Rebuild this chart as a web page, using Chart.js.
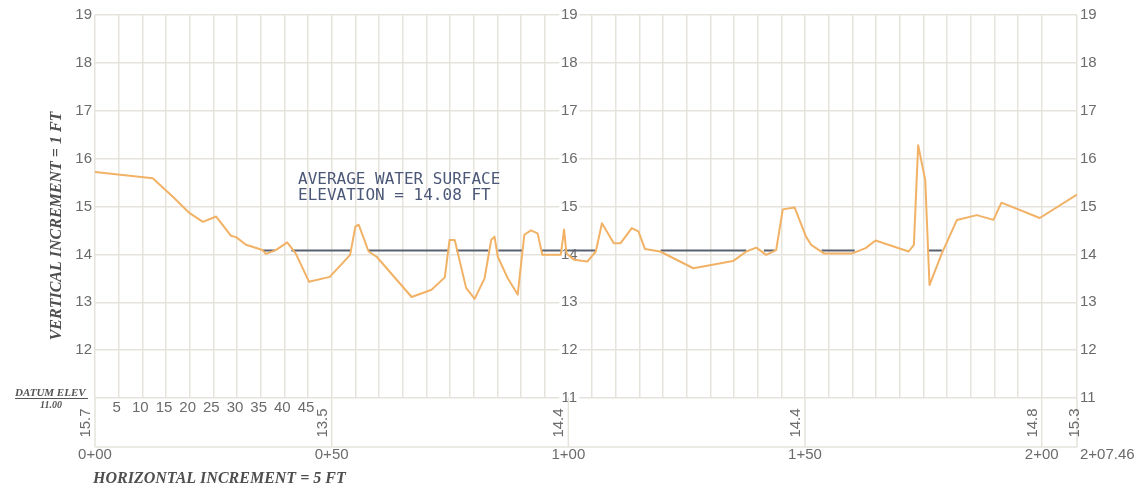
<!DOCTYPE html>
<html>
<head>
<meta charset="utf-8">
<title>Channel cross section</title>
<script src="https://cdn.jsdelivr.net/npm/chart.js@4.4.1/dist/chart.umd.min.js"></script>
<style>
  html, body { margin: 0; padding: 0; background: #fff; }
  canvas { display: block; }
</style>
</head>
<body>
<canvas id="xsChart" width="1138" height="496"></canvas>
<script>
// ground profile (station in ft, elevation in ft)
const groundX = [0, 12.2, 16.5, 20, 22.8, 25.6, 28.7, 29.8, 31.9, 35.4, 36.1, 38.2, 40.6, 42.4, 45.2, 49.6,
  53.9, 55.0, 55.7, 57.8, 59.5, 66.9, 71.1, 73.9, 74.9, 76.0, 78.4, 80.2, 82.3, 83.7, 84.4, 85.1,
  87.2, 89.3, 90.7, 92.1, 93.5, 94.5, 98.4, 99.1, 99.6, 101.2, 104.0, 105.8, 107.1, 109.6, 111.0,
  113.4, 114.8, 116.2, 119.4, 126.4, 134.8, 137.6, 139.7, 141.8, 143.9, 145.3, 147.8, 150.2, 151.3,
  154.0, 160.0, 162.8, 164.9, 171.9, 173.0, 173.9, 175.4, 176.3, 178.9, 182.1, 186.3, 189.8, 191.5,
  199.6, 207.46];
const groundY = [15.72, 15.59, 15.2, 14.86, 14.68, 14.79, 14.39, 14.36, 14.2, 14.09, 14.01, 14.09, 14.25, 14.02, 13.43, 13.53,
  13.99, 14.58, 14.62, 14.06, 13.95, 13.11, 13.26, 13.52, 14.3, 14.3, 13.3, 13.07, 13.5, 14.3, 14.37, 13.95,
  13.5, 13.16, 14.41, 14.5, 14.44, 13.99, 13.99, 14.52, 14.02, 13.89, 13.85, 14.06, 14.65, 14.23, 14.23,
  14.55, 14.48, 14.11, 14.06, 13.71, 13.86, 14.06, 14.14, 13.99, 14.09, 14.94, 14.98, 14.37, 14.2,
  14.02, 14.02, 14.13, 14.29, 14.06, 14.2, 16.28, 15.55, 13.36, 14.02, 14.72, 14.82, 14.72, 15.08,
  14.76, 15.25];

// wetted stretches of the average water surface [from, to] in ft
const waterSegments = [[35.4, 38.0], [41.5, 54.0], [57.8, 74.8], [76.3, 83.1], [85.2, 90.3], [94.3, 98.6],
  [99.7, 105.7], [119.5, 137.6], [141.3, 143.6], [153.5, 160.5], [175.9, 178.9]];
const waterElev = 14.08;

const elevTicks = [11, 12, 13, 14, 15, 16, 17, 18, 19];
const stations = [0, 50, 100, 150, 200, 207.46];
const stationLabels = ['0+00', '0+50', '1+00', '1+50', '2+00', '2+07.46'];
const stationElev = ['15.7', '13.5', '14.4', '14.4', '14.8', '15.3'];
const distLabels = [5, 10, 15, 20, 25, 30, 35, 40, 45];

const gridX = [];
for (let s = 0; s <= 200; s += 5) gridX.push(s);
gridX.push(207.46);

const gridColor = '#e5e3dc';
const labelColor = '#6b6b6b';
const tickFont = '15px "Liberation Sans", Arial, sans-serif';

const groundPts = groundX.map((x, i) => ({ x: x, y: groundY[i] }));
const waterPts = [];
waterSegments.forEach(([a, b]) => {
  waterPts.push({ x: a, y: waterElev }, { x: b, y: waterElev }, { x: b, y: null });
});

const sheetPlugin = {
  id: 'sheet',
  beforeDatasetsDraw(chart) {
    // elevation labels along the 1+00 line
    const { ctx, scales: { x, y } } = chart;
    const cx = x.getPixelForValue(100);
    ctx.save();
    ctx.font = tickFont;
    ctx.textAlign = 'center';
    ctx.textBaseline = 'middle';
    elevTicks.forEach((v) => {
      const py = y.getPixelForValue(v);
      ctx.fillStyle = '#fff';
      ctx.fillRect(cx - 9, py - 7, 20, 14);
      ctx.fillStyle = labelColor;
      ctx.fillText(String(v), cx + 1, py);
    });
    ctx.restore();
  },
  afterDraw(chart) {
    const { ctx, chartArea, scales: { x } } = chart;
    const top = chartArea.bottom;
    const bandBottom = top + 49;
    ctx.save();

    // station band
    ctx.strokeStyle = gridColor;
    ctx.lineWidth = 1.5;
    ctx.beginPath();
    stations.forEach((s) => {
      const px = x.getPixelForValue(s);
      ctx.moveTo(px, top);
      ctx.lineTo(px, bandBottom);
    });
    ctx.moveTo(chartArea.left, bandBottom);
    ctx.lineTo(chartArea.right, bandBottom);
    ctx.stroke();

    ctx.font = tickFont;
    ctx.fillStyle = labelColor;
    ctx.textBaseline = 'middle';
    stations.forEach((s, i) => {
      const px = x.getPixelForValue(s);
      const last = i === stations.length - 1;
      ctx.textAlign = last ? 'left' : 'center';
      ctx.fillText(stationLabels[i], last ? px + 3 : px, bandBottom + 8);

      ctx.save();
      ctx.translate(last ? px - 2 : px - 9, top + 25);
      ctx.rotate(-Math.PI / 2);
      ctx.textAlign = 'center';
      ctx.fillText(stationElev[i], 0, 0);
      ctx.restore();
    });

    ctx.textAlign = 'center';
    distLabels.forEach((d) => {
      ctx.fillText(String(d), x.getPixelForValue(d) - 2, top + 10);
    });

    // datum note
    ctx.fillStyle = '#555';
    ctx.font = 'italic bold 11px "Liberation Serif", serif';
    ctx.textAlign = 'left';
    ctx.textBaseline = 'alphabetic';
    ctx.fillText('DATUM ELEV', 15, top - 2);
    ctx.strokeStyle = '#555';
    ctx.lineWidth = 1;
    ctx.beginPath();
    ctx.moveTo(15, top + 0.5);
    ctx.lineTo(88, top + 0.5);
    ctx.stroke();
    ctx.font = 'italic bold 10px "Liberation Serif", serif';
    ctx.textAlign = 'center';
    ctx.fillText('11.00', 51, top + 10);

    // axis titles
    ctx.fillStyle = '#4f4f4f';
    ctx.font = 'italic bold 16px "Liberation Serif", serif';
    ctx.textBaseline = 'middle';
    ctx.save();
    ctx.translate(57, 226);
    ctx.rotate(-Math.PI / 2);
    ctx.textAlign = 'center';
    ctx.fillText('VERTICAL INCREMENT = 1 FT', 0, 0);
    ctx.restore();
    ctx.textAlign = 'left';
    ctx.fillText('HORIZONTAL INCREMENT = 5 FT', 93, 479);

    // water surface note
    ctx.fillStyle = '#4c5878';
    ctx.font = '16px "DejaVu Sans Mono", monospace';
    ctx.textBaseline = 'alphabetic';
    ctx.fillText('AVERAGE WATER SURFACE', 298, 184);
    ctx.fillText('ELEVATION = 14.08 FT', 298, 200);

    ctx.restore();
  }
};

const yTicks = (hideBottom) => ({
  stepSize: 1,
  padding: 3,
  color: labelColor,
  font: { family: '"Liberation Sans", Arial, sans-serif', size: 15 },
  callback: (v) => (hideBottom && v === 11 ? '' : String(v)),
});

new Chart(document.getElementById('xsChart'), {
  type: 'line',
  data: {
    datasets: [
      {
        label: 'Ground',
        data: groundPts,
        borderColor: '#f2b266',
        borderWidth: 2,
        pointRadius: 0,
        tension: 0,
        borderJoinStyle: 'round',
      },
      {
        label: 'Average water surface',
        data: waterPts,
        borderColor: '#596070',
        borderWidth: 2,
        pointRadius: 0,
        spanGaps: false,
      },
    ],
  },
  options: {
    responsive: false,
    animation: false,
    layout: { padding: { top: 15, left: 0, right: 0, bottom: 0 } },
    plugins: { legend: { display: false }, tooltip: { enabled: false } },
    scales: {
      x: {
        type: 'linear',
        min: 0,
        max: 207.46,
        afterBuildTicks: (s) => { s.ticks = gridX.map((v) => ({ value: v })); },
        afterFit: (s) => { s.height = 98; },
        ticks: { display: false },
        grid: {
          color: (c) => (c.tick && c.tick.value === 100 ? 'rgba(0,0,0,0)' : gridColor),
          lineWidth: 1.5,
          drawTicks: false,
        },
        border: { display: false },
      },
      y: {
        position: 'left',
        min: 11,
        max: 19,
        afterFit: (s) => { s.width = 95; },
        ticks: yTicks(true),
        grid: { color: gridColor, lineWidth: 1.5, drawTicks: false },
        border: { display: false },
      },
      y2: {
        position: 'right',
        min: 11,
        max: 19,
        afterFit: (s) => { s.width = 61; },
        ticks: yTicks(false),
        grid: { display: false, drawTicks: false },
        border: { display: false },
      },
    },
  },
  plugins: [sheetPlugin],
});
</script>
</body>
</html>
